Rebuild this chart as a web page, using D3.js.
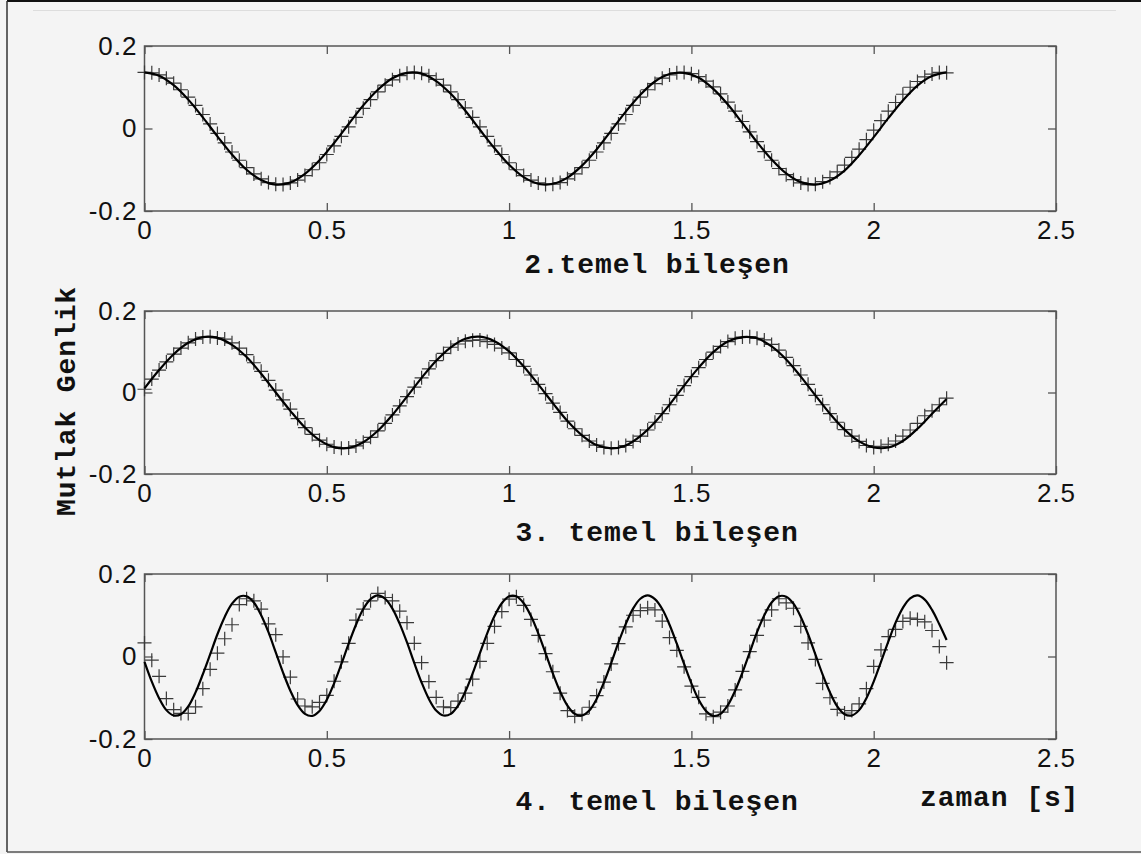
<!DOCTYPE html>
<html>
<head>
<meta charset="utf-8">
<script src="https://cdn.jsdelivr.net/npm/d3@7"></script>
<style>
  body { margin: 0; background: #f4f4f4; }
  svg { display: block; }
  .tick text { font-family: "Liberation Sans", Arial, sans-serif; font-size: 26px; fill: #111; letter-spacing: 1px; }
  .tick line { stroke: #555; stroke-width: 1.3; }
  .lbl { font-family: "Liberation Mono", "Courier New", monospace; font-weight: bold; font-size: 28px; fill: #111; letter-spacing: 0.9px; }
</style>
</head>
<body>
<svg id="chart" width="1141" height="854"></svg>
<script>
const xTicks = [0, 0.5, 1, 1.5, 2, 2.5];
const yTicks = [-0.2, 0, 0.2];
const panelTitles = ["2.temel bileşen", "3. temel bileşen", "4. temel bileşen"];
const yLabel = "Mutlak Genlik";
const xLabel = "zaman [s]";

// sample times [s]
const markerTimes = d3.range(111).map(i => +(i * 0.02).toFixed(2));
const coarseTimes = d3.range(56).map(i => +(i * 0.04).toFixed(2));

// 2. temel bileşen
const line2 = [0.136,0.128,0.105,0.070,0.027,-0.019,-0.063,-0.100,-0.125,-0.136,
  -0.131,-0.110,-0.077,-0.035,0.011,0.056,0.094,0.122,0.135,0.133,
  0.115,0.084,0.043,-0.003,-0.048,-0.088,-0.118,-0.134,-0.134,-0.119,
  -0.090,-0.051,-0.005,0.041,0.082,0.114,0.132,0.135,0.123,0.096,
  0.058,0.013,-0.033,-0.075,-0.109,-0.130,-0.136,-0.126,-0.102,-0.065,
  -0.021,0.025,0.068,0.104,0.127,0.136];
const marks2 = [0.136,0.135,0.130,0.122,0.110,0.094,0.076,0.056,0.034,0.011,
  -0.012,-0.035,-0.057,-0.077,-0.095,-0.110,-0.122,-0.131,-0.135,-0.136,
  -0.132,-0.125,-0.114,-0.100,-0.083,-0.063,-0.042,-0.019,0.004,0.027,
  0.049,0.070,0.089,0.105,0.118,0.128,0.134,0.136,0.134,0.128,
  0.119,0.105,0.089,0.070,0.050,0.027,0.004,-0.019,-0.042,-0.063,
  -0.083,-0.100,-0.114,-0.125,-0.132,-0.136,-0.135,-0.131,-0.122,-0.110,
  -0.095,-0.077,-0.057,-0.035,-0.012,0.011,0.034,0.056,0.076,0.094,
  0.109,0.122,0.130,0.135,0.136,0.133,0.126,0.115,0.101,0.084,
  0.064,0.042,0.017,-0.008,-0.032,-0.056,-0.077,-0.097,-0.112,-0.124,
  -0.132,-0.136,-0.135,-0.129,-0.119,-0.105,-0.089,-0.070,-0.050,-0.027,
  -0.004,0.019,0.042,0.063,0.083,0.100,0.114,0.125,0.132,0.136,0.135];

// 3. temel bileşen
const line3 = [0.010,0.055,0.094,0.122,0.136,0.134,0.117,0.087,0.046,0.000,
  -0.045,-0.086,-0.117,-0.134,-0.136,-0.122,-0.094,-0.055,-0.010,0.036,
  0.078,0.111,0.132,0.137,0.126,0.101,0.064,0.020,-0.026,-0.070,
  -0.105,-0.129,-0.137,-0.130,-0.107,-0.073,-0.030,0.017,0.061,0.099,
  0.125,0.136,0.133,0.113,0.081,0.039,-0.007,-0.052,-0.091,-0.120,
  -0.135,-0.135,-0.119,-0.089,-0.052,-0.016];
const marks3 = [0.008,0.033,0.055,0.075,0.094,0.109,0.122,0.131,0.136,0.137,
  0.134,0.131,0.122,0.109,0.093,0.073,0.052,0.030,0.006,-0.018,
  -0.041,-0.064,-0.086,-0.103,-0.117,-0.127,-0.134,-0.137,-0.136,-0.131,
  -0.122,-0.110,-0.094,-0.076,-0.055,-0.033,-0.010,0.013,0.036,0.058,
  0.078,0.096,0.111,0.119,0.126,0.128,0.129,0.125,0.118,0.109,
  0.097,0.081,0.064,0.043,0.020,-0.003,-0.026,-0.049,-0.070,-0.089,
  -0.105,-0.119,-0.129,-0.135,-0.137,-0.135,-0.130,-0.120,-0.107,-0.092,
  -0.073,-0.052,-0.030,-0.007,0.017,0.039,0.061,0.081,0.099,0.113,
  0.125,0.133,0.136,0.137,0.133,0.129,0.118,0.104,0.086,0.066,
  0.043,0.020,-0.007,-0.030,-0.052,-0.073,-0.091,-0.107,-0.120,-0.130,
  -0.135,-0.132,-0.127,-0.119,-0.107,-0.092,-0.076,-0.057,-0.045,-0.030,-0.014];

// 4. temel bileşen
const line4 = [-0.013,-0.061,-0.101,-0.130,-0.143,-0.140,-0.121,-0.087,-0.043,0.005,
  0.054,0.096,0.128,0.145,0.146,0.131,0.100,0.059,0.010,-0.039,
  -0.083,-0.118,-0.139,-0.144,-0.132,-0.105,-0.065,-0.018,0.031,0.077,
  0.115,0.139,0.148,0.140,0.116,0.079,0.034,-0.016,-0.063,-0.103,
  -0.131,-0.143,-0.139,-0.119,-0.085,-0.041,0.008,0.056,0.098,0.129,
  0.146,0.146,0.129,0.098,0.056,0.008,-0.041,-0.085,-0.119,-0.139,
  -0.143,-0.131,-0.103,-0.063,-0.016,0.034,0.079,0.116,0.140,0.148,
  0.139,0.115,0.077,0.031,-0.018,-0.065,-0.105,-0.132,-0.144,-0.139,
  -0.118,-0.083,-0.039,0.010,0.059,0.100,0.131,0.146,0.145,0.128,
  0.096,0.054,0.005,-0.044,-0.087,-0.121,-0.140,-0.143,-0.130,-0.101,
  -0.061,-0.013,0.036,0.082,0.118,0.141,0.148,0.138,0.113,0.078,0.040];
const marks4 = [0.033,-0.009,-0.048,-0.102,-0.129,-0.138,-0.138,-0.122,-0.078,-0.031,
  0.008,0.043,0.077,0.126,0.140,0.135,0.115,0.079,0.053,-0.001,
  -0.050,-0.103,-0.120,-0.122,-0.111,-0.094,-0.060,-0.013,0.032,0.088,
  0.115,0.135,0.153,0.143,0.135,0.110,0.082,0.032,-0.015,-0.061,
  -0.099,-0.122,-0.124,-0.108,-0.089,-0.055,-0.012,0.032,0.073,0.109,
  0.139,0.145,0.124,0.090,0.051,0.007,-0.037,-0.089,-0.131,-0.145,
  -0.140,-0.123,-0.095,-0.062,-0.018,0.031,0.072,0.100,0.111,0.118,
  0.113,0.086,0.046,0.015,-0.025,-0.072,-0.099,-0.139,-0.146,-0.135,
  -0.120,-0.081,-0.036,0.012,0.051,0.088,0.113,0.140,0.130,0.117,
  0.073,0.033,-0.007,-0.065,-0.100,-0.128,-0.137,-0.131,-0.115,-0.078,
  -0.024,0.016,0.048,0.066,0.085,0.093,0.090,0.084,0.063,0.024,-0.015];

const panels = [
  { top: 46, bottom: 211, lineT: coarseTimes, line: line2, marks: marks2, title: panelTitles[0], titleY: 273 },
  { top: 311, bottom: 474, lineT: coarseTimes, line: line3, marks: marks3, title: panelTitles[1], titleY: 541 },
  { top: 574, bottom: 739, lineT: markerTimes, line: line4, marks: marks4, title: panelTitles[2], titleY: 810 }
];

const svg = d3.select('#chart');
const left = 144.5, right = 1056;

// page frame
svg.append('rect').attr('width', 1141).attr('height', 854).attr('fill', '#f4f4f4');
svg.append('line').attr('x1', 7).attr('x2', 1141).attr('y1', 1).attr('y2', 1).attr('stroke', '#111').attr('stroke-width', 2);
svg.append('line').attr('x1', 7).attr('x2', 7).attr('y1', 1).attr('y2', 852).attr('stroke', '#333').attr('stroke-width', 1.5);
svg.append('line').attr('x1', 7).attr('x2', 1141).attr('y1', 852).attr('y2', 852).attr('stroke', '#555').attr('stroke-width', 1.5);
svg.append('line').attr('x1', 33).attr('x2', 1116).attr('y1', 10.5).attr('y2', 10.5).attr('stroke', '#ddd').attr('stroke-width', 1);

const x = d3.scaleLinear().domain([0, 2.5]).range([left, right]);

panels.forEach(p => {
  const y = d3.scaleLinear().domain([-0.2, 0.2]).range([p.bottom, p.top]);
  const g = svg.append('g');

  g.append('g').attr('transform', `translate(0,${p.bottom})`)
    .call(d3.axisBottom(x).tickValues(xTicks).tickFormat(d => String(d)).tickSizeInner(-8).tickSizeOuter(0).tickPadding(10));
  g.append('g').attr('transform', `translate(0,${p.top})`)
    .call(d3.axisTop(x).tickValues(xTicks).tickFormat('').tickSizeInner(-8).tickSizeOuter(0));
  g.append('g').attr('transform', `translate(${left},0)`)
    .call(d3.axisLeft(y).tickValues(yTicks).tickFormat(d => String(d)).tickSizeInner(-8).tickSizeOuter(0).tickPadding(7));
  g.append('g').attr('transform', `translate(${right},0)`)
    .call(d3.axisRight(y).tickValues(yTicks).tickFormat('').tickSizeInner(-8).tickSizeOuter(0));
  g.selectAll('.domain').remove();
  g.selectAll('.tick text').attr('font-family', null).attr('font-size', null);

  g.append('rect')
    .attr('x', left).attr('y', p.top)
    .attr('width', right - left).attr('height', p.bottom - p.top)
    .attr('fill', 'none').attr('stroke', '#555').attr('stroke-width', 1.5);

  // + markers
  g.append('g').selectAll('path')
    .data(p.marks)
    .join('path')
    .attr('d', (v, i) => {
      const cx = x(markerTimes[i]), cy = y(v);
      return `M${cx - 7},${cy}h14M${cx},${cy - 7}v14`;
    })
    .attr('stroke', '#3a3a3a').attr('stroke-width', 1.2).attr('fill', 'none');

  const lineGen = d3.line()
    .x((v, i) => x(p.lineT[i]))
    .y(v => y(v))
    .curve(d3.curveCatmullRom);
  g.append('path').attr('d', lineGen(p.line))
    .attr('fill', 'none').attr('stroke', '#000').attr('stroke-width', 2.2);

  g.append('text').attr('class', 'lbl')
    .attr('x', 657).attr('y', p.titleY)
    .attr('text-anchor', 'middle')
    .text(p.title);
});

svg.append('text').attr('class', 'lbl')
  .attr('transform', 'translate(75,401) rotate(-90)')
  .attr('text-anchor', 'middle')
  .text(yLabel);

svg.append('text').attr('class', 'lbl')
  .attr('x', 920).attr('y', 806)
  .text(xLabel);
</script>
</body>
</html>
